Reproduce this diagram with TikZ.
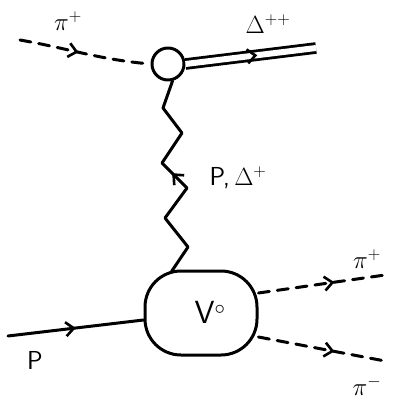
\documentclass[tikz,border=0pt]{standalone}
\usepackage{amsmath, amssymb}
\usepackage{tikz}
\usetikzlibrary{arrows.meta, calc, positioning, decorations.markings}

\begin{document}
\begin{tikzpicture}[x=1pt, y=-1pt, line width=3pt, line cap=round, line join=round,
    midarrow/.style={decoration={markings, mark=at position #1 with {\arrow{Straight Barb[length=8pt, width=14pt, line width=2.6pt]}}}, postaction={decorate}},
    pion/.style={dash pattern=on 11pt off 8pt},
    lbl/.style={font=\fontsize{26}{28}\selectfont\sffamily}]
    \useasboundingbox (0,0) rectangle (401,402);

    % 顶点与色团
    \node[circle, draw, minimum size=32pt, inner sep=0pt] (top) at (168,64) {};
    \node[draw, rounded corners=36pt, minimum width=112pt, minimum height=84pt] (blob) at (201,313) {};
    \node[lbl, font=\fontsize{32}{34}\selectfont\sffamily] at (210,312) {V$^{\circ}$};

    % 外线端点
    \coordinate (pin) at (20,40);
    \coordinate (din) at (316,48);
    \coordinate (p) at (8,336);
    \coordinate (pip) at (385,275);
    \coordinate (pim) at (385,361);

    % 入射 pi+ 与 Delta++
    \draw[pion, midarrow=0.45] (pin) to[out=-10, in=175] (top.west);
    \draw[double, double distance=6pt, line width=2.8pt, line cap=butt, midarrow=0.55] (top.east) -- (din);
    \node[lbl] at (68,21) {$\pi^{+}$};
    \node[lbl] at (268,24) {$\Delta^{++}$};

    % 交换线
    \draw[midarrow=0.53] (blob.north west) ++(28,2)
        -- (188,247) -- (165,218) -- (187,188) -- (162,163) -- (182,133) -- (163,108) -- (top.-75);
    \node[lbl] at (238,178) {P,\,$\Delta^{+}$};

    % 下顶点
    \draw[midarrow=0.5] (p) -- (blob.west |- 0,320);
    \draw[pion, midarrow=0.6] (blob.east |- 0,293) -- (pip);
    \draw[pion, midarrow=0.6] (blob.east |- 0,337) -- (pim);
    \node[lbl] at (35,360) {P};
    \node[lbl] at (367,259) {$\pi^{+}$};
    \node[lbl] at (367,386) {$\pi^{-}$};
\end{tikzpicture}
\end{document}
